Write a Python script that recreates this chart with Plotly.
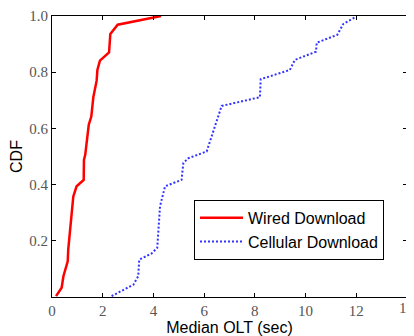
import plotly.graph_objects as go

# Wired Download CDF (Median OLT sec, cumulative fraction)
wired_x = [0.16, 0.38, 0.45, 0.62, 0.64, 0.74, 0.84, 0.97, 1.25, 1.26, 1.31, 1.45, 1.55, 1.63, 1.76, 1.79, 1.89, 2.25, 2.30, 2.59, 4.30]
wired_y = [0.003, 0.033, 0.074, 0.127, 0.169, 0.264, 0.358, 0.394, 0.417, 0.488, 0.506, 0.613, 0.642, 0.711, 0.770, 0.808, 0.841, 0.870, 0.936, 0.969, 1.0]

# Cellular Download CDF
cell_x = [2.35, 3.21, 3.40, 3.44, 3.93, 4.15, 4.19, 4.26, 4.46, 5.11, 5.18, 5.38, 6.10, 6.62, 6.69, 8.20, 8.23, 9.38, 9.58, 10.41, 10.44, 11.25, 11.49, 12.01]
cell_y = [0.003, 0.044, 0.074, 0.133, 0.155, 0.175, 0.228, 0.323, 0.394, 0.417, 0.477, 0.494, 0.518, 0.666, 0.680, 0.711, 0.775, 0.808, 0.844, 0.873, 0.905, 0.933, 0.972, 0.998]

x_ticks = [0, 2, 4, 6, 8, 10, 12, 14]
x_tick_text = ["0", "2", "4", "6", "8", "10", "12", "14"]
y_ticks = [0.2, 0.4, 0.6, 0.8, 1.0]
y_tick_text = ["0.2", "0.4", "0.6", "0.8", "1.0"]

fig = go.Figure()
fig.add_trace(go.Scatter(x=wired_x, y=wired_y, mode="lines", name="Wired Download",
                         line=dict(color="#ff0000", width=2.5)))
fig.add_trace(go.Scatter(x=cell_x, y=cell_y, mode="lines", name="Cellular Download",
                         line=dict(color="#3333ff", width=2, dash="2px,2px")))

tickfont = dict(family="Liberation Serif, Times New Roman, serif", size=15, color="#555555")
axis_common = dict(showgrid=False, zeroline=False, showline=True, linecolor="black", linewidth=1,
                   mirror="ticks", ticks="inside", ticklen=4, tickcolor="black", tickfont=tickfont,
                   automargin=False, ticklabeloverflow="allow")

# last x tick label sits on the window edge; plotly drops it, so draw it as an annotation
shown_x_text = x_tick_text[:-1] + [""]

# the page body adds an 8px offset, so the figure is sized to fit the window
fig.update_layout(
    width=406, height=328,
    margin=dict(l=44, r=7, t=8, b=38.5),
    paper_bgcolor="white", plot_bgcolor="white",
    font=dict(family="Liberation Sans, Arial, sans-serif", color="black"),
    xaxis=dict(range=[0, 14], tickvals=x_ticks, ticktext=shown_x_text,
               title=dict(text="Median OLT (sec)", font=dict(size=16), standoff=2),
               **axis_common),
    yaxis=dict(range=[0, 1], tickvals=y_ticks, ticktext=y_tick_text,
               title=dict(text="CDF", font=dict(size=16), standoff=5),
               **axis_common),
    legend=dict(x=0.4, y=0.346, xanchor="left", yanchor="top",
                bordercolor="black", borderwidth=1, bgcolor="white",
                font=dict(size=16), itemwidth=43, tracegroupgap=0),
    showlegend=True,
    annotations=[dict(x=x_ticks[-1], y=0, xref="x", yref="paper", text=x_tick_text[-1],
                      showarrow=False, xanchor="center", yanchor="top", yshift=-1,
                      font=tickfont)],
)

fig.write_html("out.html")
